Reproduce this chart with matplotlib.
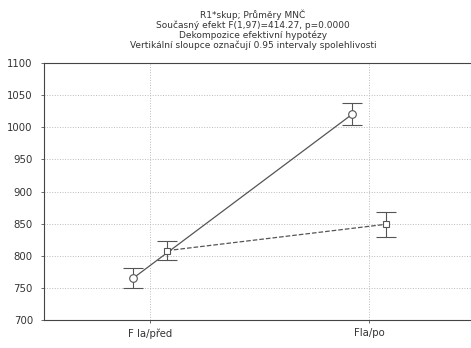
import matplotlib
matplotlib.use("Agg")
import matplotlib.pyplot as plt
import numpy as np

categories = ["F la/před", "Fla/po"]
ticks_y = [700, 750, 800, 850, 900, 950, 1000, 1050, 1100]

# group 1 (solid, circles) and group 2 (dashed, squares): mean and 95% CI
mean_1 = [765, 1020]
low_1 = [750, 1003]
high_1 = [781, 1038]
mean_2 = [808, 849]
low_2 = [794, 829]
high_2 = [823, 868]

title_lines = [
    "R1*skup; Průměry MNČ",
    "Současný efekt F(1,97)=414.27, p=0.0000",
    "Dekompozice efektivní hypotézy",
    "Vertikální sloupce označují 0.95 intervaly spolehlivosti",
]

fig = plt.figure(figsize=(4.71, 3.48), dpi=100)
ax = fig.add_axes([44 / 471, 1 - 320 / 348, 1 - 44 / 471 + 0.002, 257 / 348])

x = np.arange(len(categories))
shift = 0.078
lc = "#555555"

for xs, m, lo, hi, ls, mk, ms in [
    (x - shift, mean_1, low_1, high_1, "-", "o", 5.5),
    (x + shift, mean_2, low_2, high_2, "--", "s", 4.5),
]:
    m = np.array(m)
    err = [m - np.array(lo), np.array(hi) - m]
    ax.errorbar(xs, m, yerr=err, fmt="none", ecolor=lc, elinewidth=0.8,
                capsize=7.5, capthick=0.8, zorder=3)
    ax.plot(xs, m, linestyle=ls, color=lc, linewidth=0.9, marker=mk,
            markersize=ms, markerfacecolor="white", markeredgecolor=lc,
            markeredgewidth=0.8, zorder=4)

ax.set_xlim(-0.485, 1.47)
ax.set_ylim(700, 1100)
ax.set_yticks(ticks_y)
ax.set_xticks(x)
ax.set_xticklabels(categories)
ax.tick_params(labelsize=7.3, length=2, width=0.6, color=lc, labelcolor="#333333", pad=6)
ax.tick_params(axis="x", pad=4)

ax.grid(True, linestyle=":", linewidth=0.7, color="#bbbbbb")
ax.set_axisbelow(True)
ax.spines["right"].set_visible(False)
for side in ["left", "top", "bottom"]:
    ax.spines[side].set_color("#444444")
    ax.spines[side].set_linewidth(0.8)

for i, line in enumerate(title_lines):
    fig.text(253 / 471, 1 - (15 + 10.2 * i) / 348, line, ha="center", va="center",
             fontsize=6.5, color="#333333")

fig.savefig("out.png", dpi=100)
